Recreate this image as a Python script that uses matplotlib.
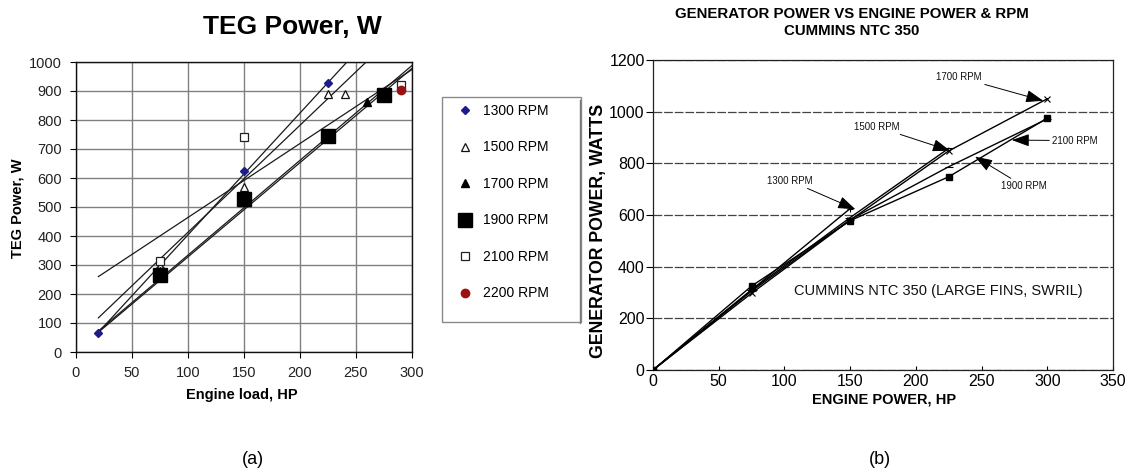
import matplotlib
matplotlib.use("Agg")
import matplotlib.pyplot as plt
from matplotlib.patches import Rectangle
from matplotlib.lines import Line2D
import numpy as np

plt.rcParams["font.family"] = ["Liberation Sans", "DejaVu Sans"]

# ---- panel (a): TEG power vs engine load, one series per engine speed ----
RPM_LABELS = ["1300 RPM", "1500 RPM", "1700 RPM", "1900 RPM", "2100 RPM", "2200 RPM"]

LOAD_1300 = [20, 75, 150, 225]
TEG_1300 = [67, 289, 624, 926]
LOAD_1500 = [75, 150, 225, 240]
TEG_1500 = [295, 568, 891, 891]
LOAD_1700 = [75, 150, 260]
TEG_1700 = [280, 540, 862]
LOAD_1900 = [75, 150, 225, 275]
TEG_1900 = [266, 527, 744, 885]
LOAD_2100 = [75, 150, 290]
TEG_2100 = [315, 740, 920]
LOAD_2200 = [290]
TEG_2200 = [903]

# linear trendlines (1300..2100 RPM), drawn over 20..300 HP
TREND_SLOPE = [4.20, 3.69, 3.27, 3.25, 2.55]
TREND_INTERCEPT = [-16, 44, 7, 3, 209]
TREND_RANGE = [20, 300]

# ---- panel (b): generator power vs engine power, Cummins NTC 350 ----
HP_1300 = [0, 75, 150]
GEN_1300 = [0, 310, 625]
HP_1500 = [0, 75, 150, 225]
GEN_1500 = [0, 310, 590, 858]
HP_1700 = [0, 75, 150, 225, 300]
GEN_1700 = [0, 297, 580, 848, 1050]
HP_1900 = [0, 75, 150, 225, 300]
GEN_1900 = [0, 325, 578, 748, 975]
HP_2100 = [0, 75, 150, 225, 300]
GEN_2100 = [0, 305, 582, 787, 972]

CALLOUT_LABELS = ["1300 RPM", "1500 RPM", "1700 RPM", "1900 RPM", "2100 RPM"]
CALLOUT_TEXT_AT = [(104, 733), (170, 942), (233, 1133), (282, 712), (321, 888)]
CALLOUT_TIP_AT = [(154, 622), (226, 849), (297, 1042), (245, 826), (273, 890)]

W, H = 1131, 472
fig = plt.figure(figsize=(W / 100, H / 100), dpi=100)


def fx(px):
    return px / W


def fy(py):
    return 1 - py / H


# ================= panel (a) =================
ax1 = fig.add_axes([fx(76), fy(352), fx(412) - fx(76), fy(62) - fy(352)])

x_trend = np.array(TREND_RANGE, dtype=float)
for slope, icpt in zip(TREND_SLOPE, TREND_INTERCEPT):
    ax1.plot(x_trend, slope * x_trend + icpt, color="#1a1a1a", lw=0.9, zorder=3)

series_a = [
    (LOAD_1300, TEG_1300, dict(marker="D", ms=4.5, mfc="#1c1c8c", mec="#1c1c8c")),
    (LOAD_1500, TEG_1500, dict(marker="^", ms=6, mfc="white", mec="#111", mew=0.9)),
    (LOAD_1700, TEG_1700, dict(marker="^", ms=6, mfc="black", mec="black")),
    (LOAD_1900, TEG_1900, dict(marker="s", ms=9.5, mfc="black", mec="black")),
    (LOAD_2100, TEG_2100, dict(marker="s", ms=6.2, mfc="white", mec="#222", mew=0.9)),
    (LOAD_2200, TEG_2200, dict(marker="o", ms=6, mfc="#9a0f0f", mec="#9a0f0f")),
]
handles = []
for (xs, ys, style), label in zip(series_a, RPM_LABELS):
    (h,) = ax1.plot(xs, ys, linestyle="none", label=label, zorder=4, **style)
    handles.append(h)

ax1.set_xlim(0, 300)
ax1.set_ylim(0, 1000)
ax1.set_xticks(np.arange(0, 301, 50))
ax1.set_yticks(np.arange(0, 1001, 100))
ax1.grid(True, color="#808080", lw=1.0, zorder=0)
ax1.set_axisbelow(True)
for sp in ax1.spines.values():
    sp.set_color("#111")
    sp.set_linewidth(1.0)
ax1.tick_params(direction="out", length=4, width=0.8, labelsize=10.5,
                labelcolor="#222", pad=6)

fig.text(fx(292), fy(27), "TEG Power, W", ha="center", va="center",
         fontsize=19, fontweight="bold")
fig.text(fx(18), fy(208), "TEG Power, W", ha="center", va="center",
         rotation=90, fontsize=10.5, fontweight="bold")
fig.text(fx(242), fy(395), "Engine load, HP", ha="center", va="center",
         fontsize=10.5, fontweight="bold")

# legend box
fig.patches.append(Rectangle((fx(442), fy(322)), fx(581) - fx(442), fy(97) - fy(322),
                             transform=fig.transFigure, fill=False,
                             edgecolor="#8a8a8a", lw=1.0))
fig.legend(handles=handles, loc="upper left", bbox_to_anchor=(fx(451), fy(97)),
           frameon=False, borderpad=0, handlelength=1.0, handletextpad=0.8,
           labelspacing=1.62, fontsize=10, numpoints=1)

fig.text(fx(253), fy(460), "(a)", ha="center", va="center", fontsize=13)

# ================= panel (b) =================
ax2 = fig.add_axes([fx(653), fy(370), fx(1113) - fx(653), fy(60) - fy(370)])

series_b = [
    (HP_1300, GEN_1300, dict(marker="+", ms=5, mew=0.8)),
    (HP_1500, GEN_1500, dict(marker="_", ms=7, mew=0.8)),
    (HP_1700, GEN_1700, dict(marker="x", ms=4.5, mew=0.8)),
    (HP_1900, GEN_1900, dict(marker="s", ms=5, mfc="black")),
    (HP_2100, GEN_2100, dict(marker="_", ms=6, mew=0.8)),
]
for xs, ys, style in series_b:
    ax2.plot(xs, ys, color="black", lw=1.0, mec="black", zorder=3, **style)

for label, txt, tip in zip(CALLOUT_LABELS, CALLOUT_TEXT_AT, CALLOUT_TIP_AT):
    ax2.annotate(label, xy=tip, xytext=txt, ha="center", va="center",
                 fontsize=7, color="#111",
                 arrowprops=dict(arrowstyle="-|>,head_length=0.9,head_width=0.32",
                                 color="black", lw=0.7, shrinkA=0, shrinkB=0,
                                 mutation_scale=12))

ax2.text(217, 305, "CUMMINS NTC 350 (LARGE FINS, SWRIL)", ha="center",
         va="center", fontsize=10.5, color="#111")

ax2.set_xlim(0, 350)
ax2.set_ylim(0, 1200)
ax2.set_xticks(np.arange(0, 351, 50))
ax2.set_yticks(np.arange(0, 1201, 200))
ax2.yaxis.grid(True, color="#444", lw=0.9, linestyle=(0, (7, 1.5)))
ax2.set_axisbelow(True)
for sp in ax2.spines.values():
    sp.set_color("#222")
    sp.set_linewidth(0.9)
ax2.tick_params(axis="y", direction="out", length=5, width=0.8, labelsize=11.5, pad=1)
ax2.tick_params(axis="x", direction="in", length=3, width=0.8, labelsize=11.5, pad=3)

fig.text(fx(852), fy(14), "GENERATOR POWER VS ENGINE POWER & RPM", ha="center",
         va="center", fontsize=10.8, fontweight="bold")
fig.text(fx(852), fy(31), "CUMMINS NTC 350", ha="center", va="center",
         fontsize=10.8, fontweight="bold")
fig.text(fx(598), fy(231), "GENERATOR POWER, WATTS", ha="center", va="center",
         rotation=90, fontsize=12.8, fontweight="bold")
fig.text(fx(884), fy(400), "ENGINE POWER, HP", ha="center", va="center",
         fontsize=10.5, fontweight="bold")
# scan edge left of the y-axis title
fig.add_artist(Line2D([fx(580), fx(580)], [fy(100), fy(323)], color="#777", lw=1.0))

fig.text(fx(880), fy(460), "(b)", ha="center", va="center", fontsize=13)

fig.savefig("out.png", dpi=100)
